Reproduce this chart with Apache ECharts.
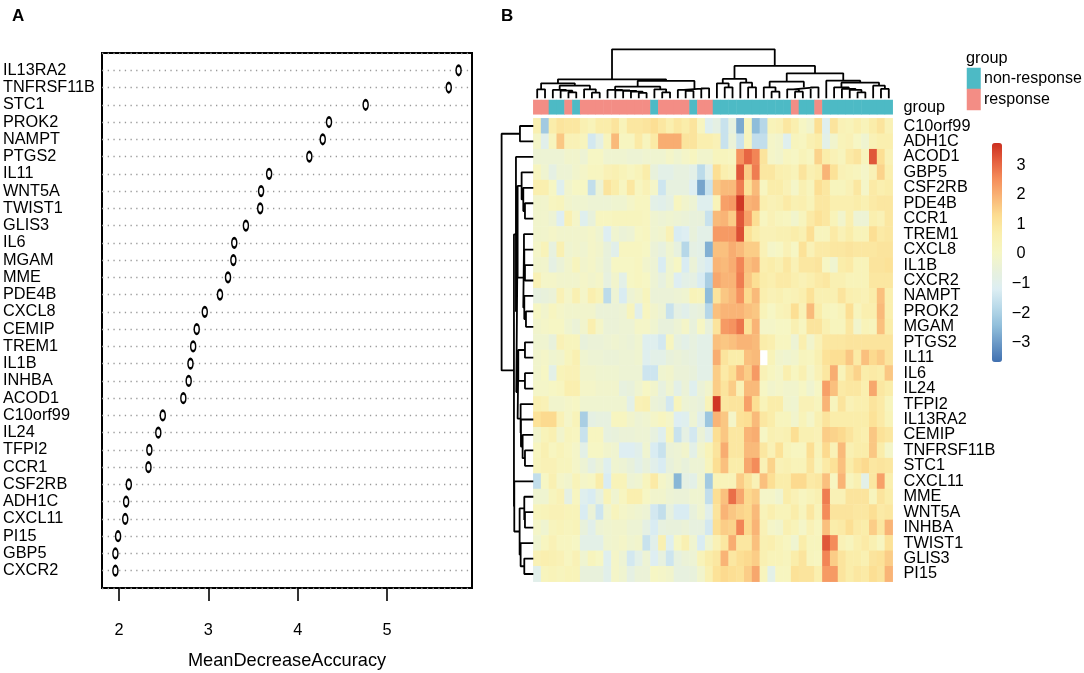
<!DOCTYPE html>
<html>
<head>
<meta charset="utf-8">
<script src="https://cdn.jsdelivr.net/npm/echarts@6/dist/echarts.min.js"></script>
<style>
html, body { margin: 0; padding: 0; background: #fff; }
#chart { width: 1084px; height: 673px; }
</style>
</head>
<body>
<div id="chart"></div>
<script>
// panel A, top to bottom
var dotGenes = ['IL13RA2','TNFRSF11B','STC1','PROK2','NAMPT','PTGS2','IL11','WNT5A','TWIST1','GLIS3',
    'IL6','MGAM','MME','PDE4B','CXCL8','CEMIP','TREM1','IL1B','INHBA','ACOD1',
    'C10orf99','IL24','TFPI2','CCR1','CSF2RB','ADH1C','CXCL11','PI15','GBP5','CXCR2'];
var meanDecrease = [5.80,5.69,4.76,4.35,4.28,4.13,3.68,3.59,3.58,3.42,
    3.29,3.28,3.22,3.13,2.96,2.87,2.83,2.80,2.78,2.72,
    2.49,2.44,2.34,2.33,2.11,2.08,2.07,1.99,1.96,1.96];
var dotTicks = [2, 3, 4, 5];

// panel B
var heatGenes = ['C10orf99','ADH1C','ACOD1','GBP5','CSF2RB','PDE4B','CCR1','TREM1','CXCL8','IL1B',
    'CXCR2','NAMPT','PROK2','MGAM','PTGS2','IL11','IL6','IL24','TFPI2','IL13RA2',
    'CEMIP','TNFRSF11B','STC1','CXCL11','MME','WNT5A','INHBA','TWIST1','GLIS3','PI15'];
var groupNames = ['non-response', 'response'];
// 0 non-response, 1 response
var sampleGroups = [1,1,0,0,1,0,1,1,1,1,1,1,1,1,1,0,1,1,1,1,0,1,1,0,0,0,0,0,0,0,0,0,0,1,0,0,1,0,0,0,0,0,0,0,0,0];
var colorTicks = [-3, -2, -1, 0, 1, 2, 3];

var heatValues = [
    [.5,-2.2,.7,1,.9,.9,.5,.3,.7,.7,1,.3,.9,.9,1,1.2,.9,.6,.9,.7,1,.1,-1.1,-.8,-1.6,-.7,-2.8,.2,-2.5,-1.9,.3,.4,.9,.6,0,-.2,1.2,-1.1,1,.4,.3,.6,.3,.7,1,.4],
    [-.1,-1,.2,1.6,.4,.4,.2,-1.4,-.8,.2,1.8,.1,.1,.8,.2,.8,2,2,2,1,1,.6,.6,.4,-1.6,-.5,-1.6,.2,-1.7,-1.7,-.1,-.2,-1.1,.2,.1,.5,.7,-.9,-.2,.3,.4,0,-.3,.4,.6,.6],
    [-.4,-.4,-.4,-.4,-.2,-.2,-.4,0,0,-.3,-.3,-.3,-.4,-.4,-.3,-.3,-.3,-.1,-.3,-.1,.1,-.2,-.2,.2,.2,.1,2.4,3,2.6,1,-.1,-.2,.1,0,.3,.1,1.4,.7,.4,.2,.8,1,.2,3.2,1.2,.4],
    [.1,-.3,-.8,-.4,-.4,-.2,-.1,.1,.1,.4,.5,.3,.1,.3,.7,-.6,-.9,-.9,-.7,-.7,-.9,-1.8,-1,1.2,.6,.4,3.2,1.5,2.7,.9,.9,.6,.5,.3,1,.5,.7,1.9,1.1,.4,.3,.2,-.1,.4,1.4,.6],
    [.6,.6,0,-1.1,-.2,0,0,-1.7,-.4,1,.7,.1,.9,.1,.4,-.1,-1.5,-.7,-.7,-.7,-1.2,-2.9,-1.6,1.6,1.8,1.8,2.7,1.1,1.8,.1,.7,.7,.4,-.1,.5,.2,1.2,.9,.2,.2,.4,.9,-.1,.8,.6,.7],
    [-.2,-.2,.1,.2,-.2,-.3,-.3,-.4,-.4,-.4,-.3,-.3,-.1,.1,.1,-.9,-1,-.8,.1,-.2,-.4,-1.1,-1.1,.3,2.2,2.3,3.6,1.9,2,.6,.4,.5,.8,.5,.6,.3,.9,.9,.6,.6,.6,.7,.5,.8,.9,.9],
    [-.2,-.2,-.4,-1.2,.5,-.1,-1.1,-.6,.1,.1,.2,.2,.2,.2,.1,-.3,-.4,-.3,-.4,-.5,-.6,-.6,-1.6,1.8,1.9,1.5,3.2,2.2,1.2,.1,.4,.2,.1,-.2,.2,.8,1.1,.9,.3,-.2,.6,-.4,-.4,.6,.4,.9],
    [-.2,-.2,-.1,-.2,-.2,-.2,-.2,-.1,-.3,-1.2,-.3,-.5,-.4,0,.1,-.3,-.2,.4,-1.3,-1.2,-.6,-.9,-.9,2.3,2.3,2.3,3.3,1.1,.7,.4,.4,.5,.5,.7,.5,1.2,.2,.2,.8,.4,.7,.3,.3,1.2,.8,.9],
    [-.1,.3,-.7,.5,-.3,-.2,-.3,-.1,-.2,-.6,-1,.1,.1,.1,0,-.5,-.7,-.3,-.7,-1.9,-.8,-.9,-2.7,1.7,1.7,2,1.8,1.5,1.5,.4,-.1,0,.4,0,1.1,.4,.8,.8,.9,.9,1,.9,.9,.9,1,1],
    [-.2,-.2,-.8,-.5,-.2,.2,-.2,-.1,-.3,-.6,0,0,0,.1,-.2,-.4,-1.3,-.3,0,-1.3,-.5,-1,-1.3,1.9,1.8,2,2.6,1.7,1.9,.6,.7,.5,.9,.4,.9,.9,1,0,-.3,.7,.8,.3,.3,1,1,1.1],
    [.4,-.1,-.1,-.2,-.2,-.2,-.1,-.2,-.1,-.7,-.2,-.9,0,.1,0,-.4,-.7,-.3,-1.2,-.9,-.8,-1.3,-2.1,2.1,1.9,1.9,2.7,1.6,1.2,.7,.6,.8,.8,.6,.4,.6,.8,.9,.5,.5,.3,.3,.3,.9,.9,.9],
    [-.7,-.6,-.5,.4,-.1,.5,-.1,.6,.3,-1.8,-.4,-1.3,-.4,-.2,.2,-.5,-.5,-.5,-.4,-.3,.3,.2,-2.5,1,1.6,1.8,2.4,1.3,1.8,.6,.4,.5,.3,.4,.6,1.1,.5,.5,.5,1,.6,.5,.4,.7,1.7,.6],
    [0,-.2,.1,-.1,-.2,-.2,-.2,-.2,-.5,-.5,-.5,-.4,.2,-1,.1,-.2,-.4,-1.6,-.8,-1,-.7,-.6,-1.9,1.7,1.9,1.9,1.9,1.7,1.6,.3,0,.3,.4,1.2,.4,1.8,.7,.2,.1,.3,1.2,.2,.6,.6,1.8,.6],
    [-.2,-.1,0,0,-.3,-.5,-.2,.6,-.1,-.5,-.5,-.4,-.4,-.1,-.1,-.3,-.6,-.6,-.4,-.1,-.6,0,-.6,1,2.3,2.4,2.8,1.1,1.9,-.1,-.1,0,0,.5,.1,1,1,.5,.2,.2,.9,-.2,.3,.2,1.7,.7],
    [-.3,-.3,-.6,.4,.2,.2,-.6,-.5,-.5,-.4,-.3,-.4,-.5,-.3,-1.1,-1.1,-1.4,.1,-.7,-.9,-.7,-.9,-.9,1.7,1.6,1.7,1.9,1.9,1.8,.7,.6,.1,.1,-.4,.6,-.2,.4,.9,.9,.9,1,1,1,1,1,1],
    [-.2,-.1,-.3,-.2,.2,.5,-.3,-.4,-.4,-.5,-.5,-.4,-.4,-.3,-1.1,-.9,-.9,-.6,-.5,-.6,-.7,-.9,-.9,2,1,.7,.7,1.7,1.8,null,.3,-.2,-.3,-.2,.2,.1,.5,1.1,1.2,1.2,1.6,.8,1.7,1.3,1.5,1],
    [-.2,0,-.9,.3,.4,.4,-.2,-.2,-.3,-.3,-.3,-.4,-.4,-.4,-1.5,-1.5,-.3,-.2,-.5,-.5,-.6,-.9,-.9,1.5,.8,1.2,1.9,1.5,2.3,.4,.1,-.1,.6,.1,.5,-.1,.4,.9,2,.3,1,1.4,.7,.8,.7,1.6],
    [-.1,-.1,0,.1,.6,.6,-.1,-.1,-.2,-.2,-.2,-.7,-.6,-.3,0,-.2,-.7,-.3,-.9,-.5,-1.1,-.5,-.2,1.5,1,1.5,.4,1.8,1.8,0,-.2,-.1,-.2,-.2,0,-.3,0,2.2,1.7,.8,.9,.9,.6,2.1,.9,.7],
    [.5,.4,-.2,-.2,-.1,0,-.3,-.3,-.3,-.3,-.3,-.3,-.9,.4,.5,-.5,-.6,-1.4,.2,-.4,-.5,-.6,.3,3.6,.9,1,1,2.2,1.2,.3,.7,.7,-.2,-.3,.4,.4,.2,1.9,.2,1,.4,.6,.6,1,.8,.2],
    [1.1,1.3,1.3,.4,-.1,.3,-2.1,-.8,-.7,-.7,.1,.1,-.2,-.4,-.3,-.1,.1,-.1,-1.2,-1.1,-.4,-1,-2.3,1.9,1.6,-.1,1.1,1.2,1.8,.9,.7,.2,.2,-.2,.3,-.1,.5,1,.7,.7,.7,.7,.7,1.1,.8,.3],
    [-.2,.3,.5,-.2,.2,.1,-1.6,.1,.1,-.7,-.6,-.5,-.5,-.4,-.4,-.7,-1.1,.2,-1.6,-.8,-1.4,-.5,-1,1.2,1.6,.9,.9,1.9,2,0,.5,.4,.5,1.2,.5,.5,.4,1.5,1.4,1.3,1,.7,.6,1.6,1.1,.9],
    [.1,.5,.1,.3,.1,-.1,-.9,0,0,-.2,-.3,-1.2,-1.2,-1,-.3,-1.3,-1.6,-.5,-.4,-.2,-.9,-.2,.3,1,2,.9,.9,1.8,1.8,.9,.4,1.1,.3,.1,.1,1.2,.3,1.3,.4,1.8,.5,.7,.7,1.6,.7,-.1],
    [.2,.4,.4,.2,.2,-.1,-.4,-.8,-.5,-1.1,-.3,-.4,-.6,-.9,-.6,-1,-1.3,-.6,-.4,-.6,-.4,-.4,.2,1.2,1.7,.7,.7,2.1,2.5,.4,1.4,.4,.5,.3,.3,1,.2,.8,1.1,1.7,.7,1.1,1.3,.9,1,.9],
    [-1.7,0,.5,-.1,-.2,.3,-.1,0,.7,-1.3,.3,.3,-.4,-.3,.2,.8,-.1,-.3,-2.6,-.8,-.9,-.3,-2.2,.3,.3,.3,1.5,1,.4,1.7,1.2,.7,.7,1.3,1.3,.8,.9,1.7,.1,1.9,.2,.5,-.9,.9,2.2,.6],
    [-.3,-.3,.2,.4,-.8,.1,-1.1,-1.3,-.7,.3,-.3,.1,.6,.6,0,-.2,-.2,-.4,-.5,-.5,-.3,-.3,-1.7,1.2,1.7,2.9,2.1,1.3,1.5,-.1,-.1,-.3,.7,.4,.1,.3,.5,2.7,.4,.4,1,1,1,.2,1,.7],
    [.2,.3,.4,.4,.3,.3,-1.3,-.5,-1.5,-.3,.2,-.1,-.2,-.3,-.4,-1.4,-1.7,-.7,-1.3,-1.3,-.6,-.3,-1,1,1.9,1.6,1.4,1.3,1.8,.3,.6,.3,.3,.7,.2,.9,.3,2.5,1,1,1,.9,.9,1.2,.8,.9],
    [-.1,-.3,.2,.3,.2,.3,-.6,-1,-.4,-.3,-.2,-.2,-.4,-.4,-.8,-1.3,-.7,-.6,-.6,-.5,-.7,-.7,-1.4,1.2,1.5,1.4,2.6,1.3,1.9,.4,-.1,-.2,.5,.3,-.1,.4,.1,1.7,.7,.8,1.2,.8,.7,1.5,.9,1.9],
    [-.3,.1,.4,.1,.1,0,-.9,-.9,-.9,-.3,-.2,-.1,-.3,-.2,-1.6,-1,.5,-1.1,0,.5,-.3,-1.3,-.3,.4,.9,2,.9,.9,1.7,.5,.6,.3,.1,-.3,.7,.2,.2,3.2,2.5,.4,.2,.6,.8,.5,.1,1.1],
    [.4,.6,.5,.4,.1,.4,-.3,.2,0,-1.1,-.1,-.4,-1.4,-.9,-.4,-1.2,-.7,-1.5,-.7,-.5,-.4,.3,.7,.9,1.9,.9,1.2,1.3,1.5,.5,.3,.3,.2,.7,1,.2,.1,2.6,1.5,1,.7,.7,.5,1,1.1,1.5],
    [-1,.2,.3,.2,.3,.3,-.6,-.6,-.6,-1,-.1,-.3,-.8,-.5,-.5,0,-.1,-.2,-.7,-.7,-.6,-.2,.5,1.1,1.3,1.2,1.1,1.5,2.1,.2,-.9,.1,.1,1.1,1,1,.6,2.3,2.3,1,.7,.9,.8,1.2,1,1.9]
];

// dendrograms: [merge height, left child, right child], a bare number is a leaf index
var colTree = [147,
    [57,
        [45, [27, 0, 1],
            [38, [25, 2, [23, 3, [18, 4, 5]]], [27, 6, [17, 7, 8]]]],
        [52,
            [35, [25, 9, [24, 10, [22, 11, [20, 12, [16, 13, 14]]]]], [27, 15, [18, 16, 17]]],
            [30, [25, 18, [22, 19, 20]], [30, 21, 22]]]],
    [97,
        [58, [45, 23, [33, 24, 25]], [47, 26, [33, 27, 28]]],
        [75,
            [50, [33, 29, [20, 30, 31]], [33, [27, 32, [20, 33, 34]], [33, 35, 36]]],
            [53, 37, [47, [33, 38, [28, 39, [25, 40, [18, 41, 42]]]], [38, 43, [28, 44, 45]]]]]]];

var rowTree = [95,
    [40, 0, 1],
    [58,
        [52, 2,
            [51,
                [47, [35, 3, [30, 4, [25, 5, 6]]],
                    [30, [28, 7, [27, 8, [25, 9, 10]]], [27, 11, [22, 12, 13]]]],
                [47, [45, [25, 14, 15], [25, 16, 17]],
                    [38, 18, [37, 19, [32, 20, [25, 21, 22]]]]]]],
        [57, 23,
            [41, [27, 24, [25, 25, 26]], [38, 27, [27, 28, 29]]]]]];

var font = 'Liberation Sans';
var labelSize = 16.3;

function treePath(node, flip, out) {
    if (typeof node === 'number') {
        return { pos: node + 0.5, h: 0 };
    }
    var l = treePath(node[1], flip, out);
    var r = treePath(node[2], flip, out);
    var pts = [[l.pos, l.h], [l.pos, node[0]], [r.pos, node[0]], [r.pos, r.h]];
    pts.forEach(function (p) {
        out.push(flip ? [p[1], p[0]] : p);
    });
    out.push(['-', '-']);
    return { pos: (l.pos + r.pos) / 2, h: node[0] };
}
var colPath = [];
treePath(colTree, false, colPath);
var rowPath = [];
treePath(rowTree, true, rowPath);

var heatData = [];
heatValues.forEach(function (row, r) {
    row.forEach(function (v, c) {
        heatData.push([c, r, v === null ? '-' : v]);
    });
});
var colIndex = sampleGroups.map(function (g, i) { return i; });

function hiddenAxis(extra) {
    return Object.assign({ show: false }, extra);
}

var chart = echarts.init(document.getElementById('chart'));

var option = {
    animation: false,
    backgroundColor: '#fff',
    textStyle: { fontFamily: font, color: '#000' },
    title: [
        { text: 'A', left: 7, top: 3, textStyle: { fontFamily: font, fontSize: 17, fontWeight: 'bold', color: '#000' } },
        { text: 'B', left: 496, top: 3, textStyle: { fontFamily: font, fontSize: 17, fontWeight: 'bold', color: '#000' } },
        { text: 'group', left: 961, top: 46, textStyle: { fontFamily: font, fontSize: labelSize, fontWeight: 'normal', color: '#000' } }
    ],
    grid: [
        { left: 102, top: 53, width: 370, height: 535, outerBoundsMode: 'none', show: true, borderColor: '#000', borderWidth: 2 },
        { left: 533.3, top: 118.3, width: 359.4, height: 463.4, outerBoundsMode: 'none' },
        { left: 533.3, top: 100, width: 359.4, height: 14.3, outerBoundsMode: 'none' },
        { left: 533.3, top: 49.3, width: 359.4, height: 49, outerBoundsMode: 'none' },
        { left: 501.6, top: 118.3, width: 31.7, height: 463.4, outerBoundsMode: 'none' },
        { left: 967, top: 68, width: 13.5, height: 42, outerBoundsMode: 'none' },
        { left: 992, top: 143, width: 10, height: 219, outerBoundsMode: 'none' }
    ],
    xAxis: [
        {
            gridIndex: 0, type: 'value', min: 1.81, max: 5.95,
            axisLine: { show: false },
            splitLine: { show: false },
            axisTick: { show: true, length: 13, customValues: dotTicks, lineStyle: { color: '#000', width: 1.6 } },
            axisLabel: { customValues: dotTicks, margin: 35, fontFamily: font, fontSize: labelSize, color: '#000' },
            name: 'MeanDecreaseAccuracy', nameLocation: 'middle', nameGap: 64,
            nameTextStyle: { fontFamily: font, fontSize: 18.2, color: '#000' }
        },
        hiddenAxis({ gridIndex: 1, type: 'category', data: colIndex }),
        hiddenAxis({ gridIndex: 2, type: 'category', data: colIndex }),
        hiddenAxis({ gridIndex: 3, type: 'value', min: 0, max: 46 }),
        hiddenAxis({ gridIndex: 4, type: 'value', min: 0, max: 95, inverse: true }),
        hiddenAxis({ gridIndex: 5, type: 'category', data: ['group'] }),
        hiddenAxis({ gridIndex: 6, type: 'value', min: 0, max: 1 })
    ],
    yAxis: [
        {
            gridIndex: 0, type: 'category', inverse: true, boundaryGap: false,
            data: [''].concat(dotGenes, ['']),
            axisLine: { show: false },
            axisTick: { show: false },
            axisLabel: { interval: 0, align: 'left', margin: 99, padding: [3, 0, 0, 0], fontFamily: font, fontSize: labelSize, color: '#000' },
            splitLine: { show: true, interval: 0, lineStyle: { color: '#999', width: 1.3, type: [1.3, 4.4] } }
        },
        {
            gridIndex: 1, type: 'category', inverse: true, position: 'right', data: heatGenes,
            axisLine: { show: false },
            axisTick: { show: false },
            axisLabel: { interval: 0, margin: 10.8, padding: [2, 0, 0, 0], fontFamily: font, fontSize: labelSize, color: '#000' }
        },
        {
            gridIndex: 2, type: 'category', position: 'right', data: ['group'],
            axisLine: { show: false },
            axisTick: { show: false },
            axisLabel: { margin: 10.8, padding: [2, 0, 0, 0], fontFamily: font, fontSize: labelSize, color: '#000' }
        },
        hiddenAxis({ gridIndex: 3, type: 'value', min: 0, max: 147 }),
        hiddenAxis({ gridIndex: 4, type: 'value', min: 0, max: 30, inverse: true }),
        {
            gridIndex: 5, type: 'category', inverse: true, position: 'right', data: groupNames,
            axisLine: { show: false },
            axisTick: { show: false },
            axisLabel: { margin: 3.5, fontFamily: font, fontSize: 16, color: '#000' }
        },
        {
            gridIndex: 6, type: 'value', position: 'right', min: -3.65, max: 3.75,
            axisLine: { show: false },
            axisTick: { show: false },
            splitLine: { show: false },
            axisLabel: {
                customValues: colorTicks, margin: 19, align: 'center', fontFamily: font, fontSize: labelSize, color: '#000',
                formatter: function (v) { return String(v).replace('-', '\u2212'); }
            }
        }
    ],
    visualMap: [
        {
            type: 'continuous', seriesIndex: 1, dimension: 2, min: -3.7, max: 3.7,
            left: 992, top: 143, itemWidth: 10, itemHeight: 219, padding: 0,
            calculable: false, hoverLink: false,
            inRange: { color: ['#4070B0', '#6A98C6', '#91BFDB', '#B9D9E9', '#DDEEF3', '#E8F1DC', '#F6F6C4',
                '#FAEFAE', '#FCDE92', '#F9B778', '#F58F5C', '#E5603F', '#CC2F20'] }
        },
        {
            type: 'piecewise', seriesIndex: [2, 3], dimension: 2, show: false,
            pieces: [{ value: 0, color: '#4DBAC5' }, { value: 1, color: '#F38D85' }]
        }
    ],
    series: [
        {
            type: 'scatter', xAxisIndex: 0, yAxisIndex: 0, silent: true,
            symbol: 'circle', symbolSize: [5, 9.5],
            itemStyle: { color: '#fff', borderColor: '#000', borderWidth: 2, opacity: 1 },
            data: meanDecrease.map(function (v, i) { return [v, dotGenes[i]]; })
        },
        {
            type: 'heatmap', xAxisIndex: 1, yAxisIndex: 1, silent: true,
            data: heatData
        },
        {
            type: 'heatmap', xAxisIndex: 2, yAxisIndex: 2, silent: true,
            data: sampleGroups.map(function (g, i) { return [i, 0, g]; })
        },
        {
            type: 'heatmap', xAxisIndex: 5, yAxisIndex: 5, silent: true,
            data: groupNames.map(function (g, i) { return [0, i, i]; })
        },
        {
            type: 'line', xAxisIndex: 3, yAxisIndex: 3, silent: true, showSymbol: false, clip: false,
            lineStyle: { color: '#000', width: 1.8 },
            data: colPath
        },
        {
            type: 'line', xAxisIndex: 4, yAxisIndex: 4, silent: true, showSymbol: false, clip: false,
            lineStyle: { color: '#000', width: 1.8 },
            data: rowPath
        }
    ]
};

option && chart.setOption(option);
</script>
</body>
</html>
